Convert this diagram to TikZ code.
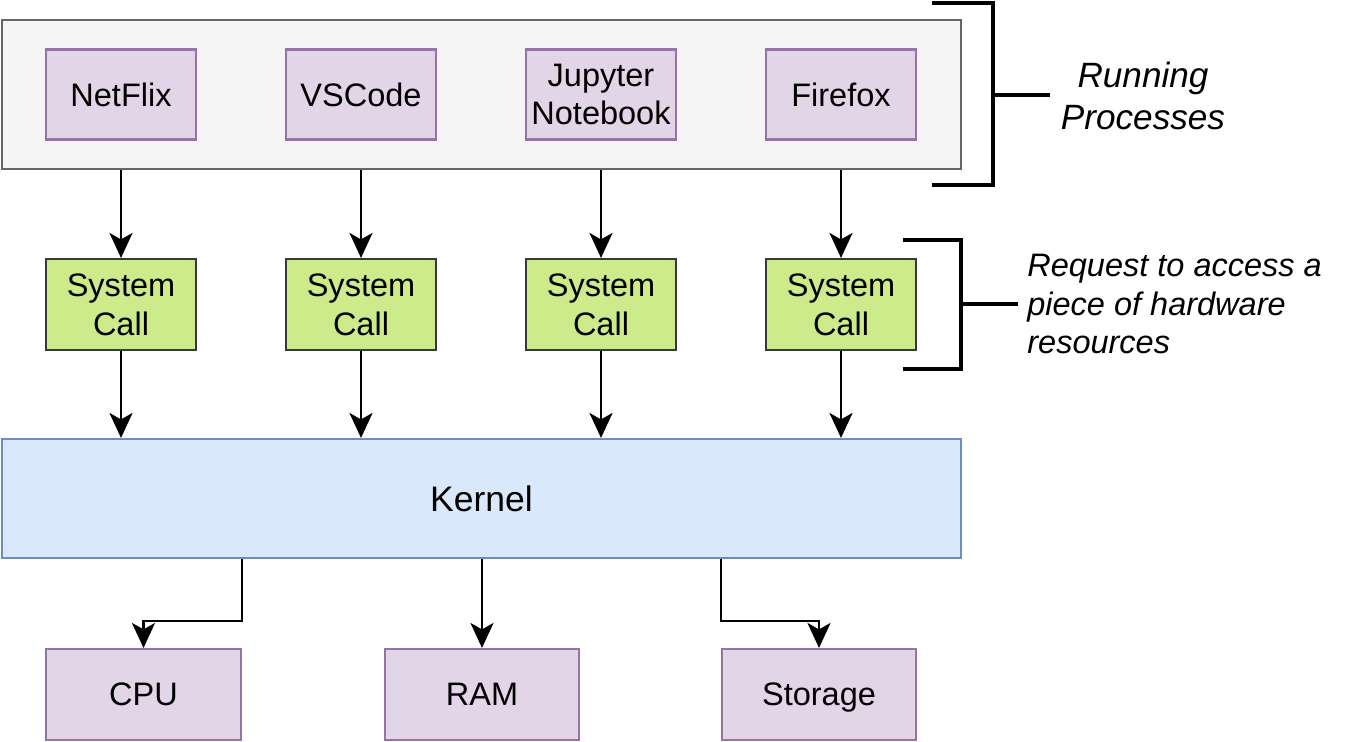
\documentclass[tikz,border=0pt]{standalone}
\usepackage{fontspec}
\setmainfont{Liberation Sans}
\usetikzlibrary{arrows.meta}

\definecolor{procfill}{HTML}{E1D5E7}
\definecolor{procline}{HTML}{9673A6}
\definecolor{grpfill}{HTML}{F5F5F5}
\definecolor{grpline}{HTML}{666666}
\definecolor{callfill}{HTML}{CDEB8B}
\definecolor{callline}{HTML}{36393D}
\definecolor{kernfill}{HTML}{DAE8FC}
\definecolor{kernline}{HTML}{6C8EBF}

\tikzset{
	box/.style={line width=1.2pt, align=center, inner sep=0pt,
		font=\fontsize{18.5}{22}\selectfont},
	proc/.style={box, draw=procline, fill=procfill, minimum width=3cm, minimum height=1.8cm},
	hw/.style={proc, minimum height=1.82cm, text depth=0pt},
	syscall/.style={box, draw=callline, fill=callfill, minimum width=3cm, minimum height=1.82cm},
	grp/.style={draw=grpline, fill=grpfill, line width=1.3pt, minimum width=19.18cm, minimum height=2.98cm},
	kern/.style={box, draw=kernline, fill=kernfill, minimum width=19.18cm, minimum height=2.38cm,
		font=\fontsize{20.2}{24}\selectfont},
	arr/.style={line width=1.6pt, -{Stealth[length=0.5cm, width=0.46cm, inset=0.13cm]}},
	brace/.style={line width=2.8pt},
	note/.style={font=\fontsize{18.5}{22}\selectfont\itshape, inner sep=0pt}
}

\begin{document}
\begin{tikzpicture}[x=0.02cm, y=-0.02cm]
\useasboundingbox (0,0) rectangle (1356,741);

\node[grp] (procs) at (481.5,94.5) {};

\foreach \x/\nm/\txt in {121/netflix/NetFlix, 361/vscode/VSCode, 601/jupyter/{Jupyter\\Notebook}, 841/firefox/Firefox}{
	\node[proc] (\nm) at (\x,94.5) {\txt};
}

\foreach \x/\i in {121/1, 361/2, 601/3, 841/4}{
	\node[syscall] (sc\i) at (\x,304.5) {System\\Call};
}

\node[kern] (kernel) at (481.5,498.5) {Kernel};

\node[hw, minimum width=3.9cm] (cpu) at (143.5,694.5) {CPU};
\node[hw, minimum width=3.88cm] (ram) at (482,694.5) {RAM};
\node[hw, minimum width=3.88cm] (storage) at (819,694.5) {Storage};

\foreach \nm/\i in {netflix/1, vscode/2, jupyter/3, firefox/4}{
	\draw[arr] (\nm |- procs.south) -- (sc\i);
}

\foreach \i in {1,...,4}{
	\draw[arr] (sc\i) -- (sc\i |- kernel.north);
}

\draw[arr] (cpu.north east |- kernel.south) -- ++(0,62) -| (cpu.north);
\draw[arr] (ram.north |- kernel.south) -- (ram);
\draw[arr] (storage.north west |- kernel.south) -- ++(0,62) -| (storage.north);

% brackets
\draw[brace] (932,3) -| (993,185) -- (932,185);
\coordinate (runtick) at (993,95);
\node[note, font=\fontsize{20}{24}\selectfont\itshape, align=center] (runlbl) at (1143,96) {Running\\Processes};
\draw[brace] (runtick) -- (1050,95);

\draw[brace] (903,240) -| (961,369) -- (903,369);
\coordinate (reqtick) at (961,304);
\node[note, align=left, anchor=west] (reqlbl) at (1027,304) {Request to access a\\piece of hardware\\resources};
\draw[brace] (reqtick) -- (1018,304);

\end{tikzpicture}
\end{document}
